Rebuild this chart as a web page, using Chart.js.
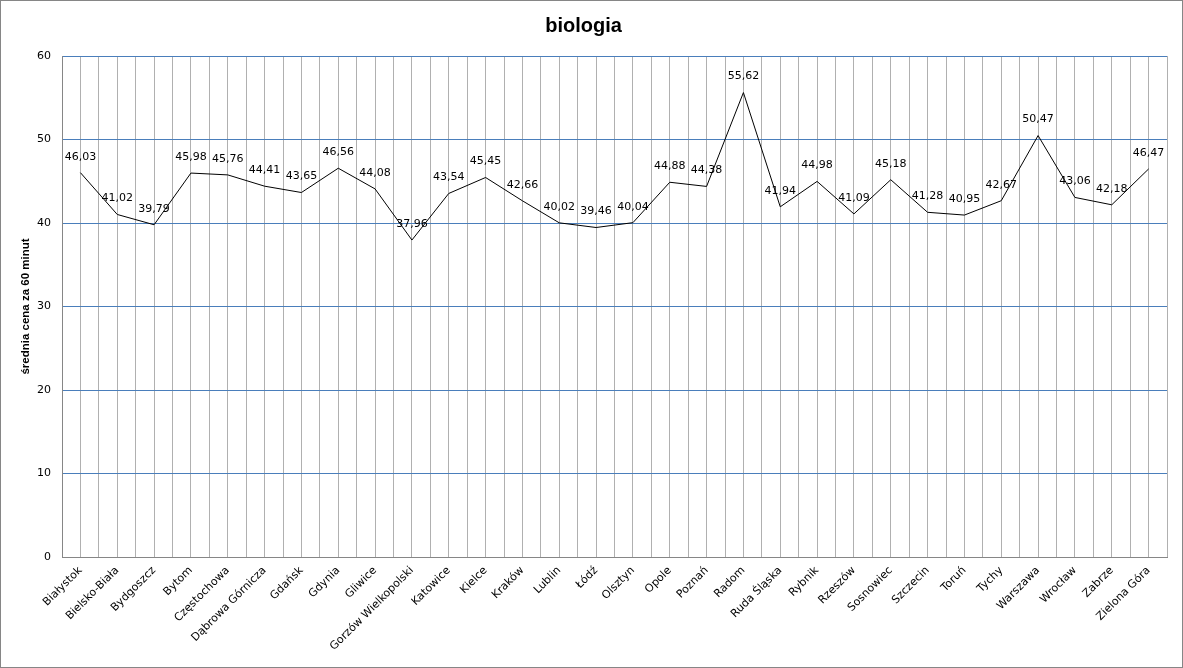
<!DOCTYPE html>
<html>
<head>
<meta charset="utf-8">
<script src="https://cdn.jsdelivr.net/npm/chart.js@4/dist/chart.umd.min.js"></script>
<style>
  body { margin: 0; background: #fff; }
  #wrap { width: 1183px; height: 668px; }
</style>
</head>
<body>
<div id="wrap"><canvas id="myChart" width="1183" height="668"></canvas></div>
<script>
var cities = ['Białystok', 'Bielsko-Biała', 'Bydgoszcz', 'Bytom', 'Częstochowa', 'Dąbrowa Górnicza', 'Gdańsk', 'Gdynia', 'Gliwice', 'Gorzów Wielkopolski',
    'Katowice', 'Kielce', 'Kraków', 'Lublin', 'Łódź', 'Olsztyn', 'Opole', 'Poznań', 'Radom', 'Ruda Śląska',
    'Rybnik', 'Rzeszów', 'Sosnowiec', 'Szczecin', 'Toruń', 'Tychy', 'Warszawa', 'Wrocław', 'Zabrze', 'Zielona Góra'];
var prices = [46.03, 41.02, 39.79, 45.98, 45.76, 44.41, 43.65, 46.56, 44.08, 37.96,
    43.54, 45.45, 42.66, 40.02, 39.46, 40.04, 44.88, 44.38, 55.62, 41.94,
    44.98, 41.09, 45.18, 41.28, 40.95, 42.67, 50.47, 43.06, 42.18, 46.47];
var yTicks = [0, 10, 20, 30, 40, 50, 60];
var chartTitle = 'biologia';
var yTitle = 'średnia cena za 60 minut';

const gray = '#b0b0b0';
const blue = '#4a7ebb';

// white background + outer frame
const frame = {
    id: 'frame',
    beforeDraw(chart) {
        const c = chart.ctx;
        c.save();
        c.fillStyle = '#fff';
        c.fillRect(0, 0, chart.width, chart.height);
        c.strokeStyle = '#868686';
        c.lineWidth = 1;
        c.strokeRect(0.5, 0.5, chart.width - 1, chart.height - 1);
        c.restore();
    }
};

// value labels above each point
const valueLabels = {
    id: 'valueLabels',
    afterDatasetsDraw(chart) {
        const c = chart.ctx;
        const meta = chart.getDatasetMeta(0);
        c.save();
        c.font = '11px "DejaVu Sans"';
        c.fillStyle = '#000';
        c.textAlign = 'center';
        c.textBaseline = 'middle';
        meta.data.forEach((pt, i) => {
            const txt = prices[i].toFixed(2).replace('.', ',');
            c.fillText(txt, pt.x, pt.y - 16);
        });
        c.restore();
    }
};

const ctx = document.getElementById('myChart').getContext('2d');
const myChart = new Chart(ctx, {
    type: 'line',
    data: {
        labels: cities,
        datasets: [{
            data: prices,
            borderColor: '#000',
            borderWidth: 1,
            pointRadius: 0,
            tension: 0,
            xAxisID: 'x'
        }]
    },
    options: {
        responsive: false,
        animation: false,
        layout: { padding: { left: 0, right: 16, top: 0, bottom: 0 } },
        plugins: {
            legend: { display: false },
            tooltip: { enabled: false },
            title: {
                display: true,
                text: chartTitle,
                color: '#000',
                font: { family: '"Liberation Sans"', size: 20, weight: 'bold' },
                padding: { top: 14, bottom: 18 }
            }
        },
        scales: {
            x: {
                type: 'category',
                offset: true,
                grid: { offset: true, color: gray, drawTicks: false, z: -2 },
                border: { color: '#868686' },
                ticks: {
                    color: '#000',
                    font: { family: '"DejaVu Sans"', size: 11 },
                    minRotation: 45,
                    maxRotation: 45,
                    autoSkip: false,
                    padding: 7
                },
                afterFit: (scale) => { scale.height = 111; }
            },
            x2: {
                type: 'category',
                labels: cities,
                position: 'top',
                offset: true,
                grid: { offset: false, color: gray, drawTicks: false, z: -2 },
                border: { display: false },
                ticks: { display: false },
                afterFit: (scale) => { scale.height = 0; }
            },
            y: {
                min: 0,
                max: 60,
                afterBuildTicks: (scale) => { scale.ticks = yTicks.map(v => ({ value: v })); },
                grid: {
                    color: (c) => c.tick && c.tick.value === 0 ? '#868686' : blue,
                    drawTicks: false,
                    z: -1
                },
                border: { color: '#868686' },
                ticks: {
                    color: '#000',
                    font: { family: '"DejaVu Sans"', size: 11 },
                    padding: 11
                },
                title: {
                    display: true,
                    text: yTitle,
                    color: '#000',
                    font: { family: '"Liberation Sans"', size: 11.5, weight: 'bold' },
                    padding: { top: 19, bottom: 0 }
                },
                afterFit: (scale) => { scale.width = 62; }
            }
        }
    },
    plugins: [frame, valueLabels]
});
</script>
</body>
</html>
